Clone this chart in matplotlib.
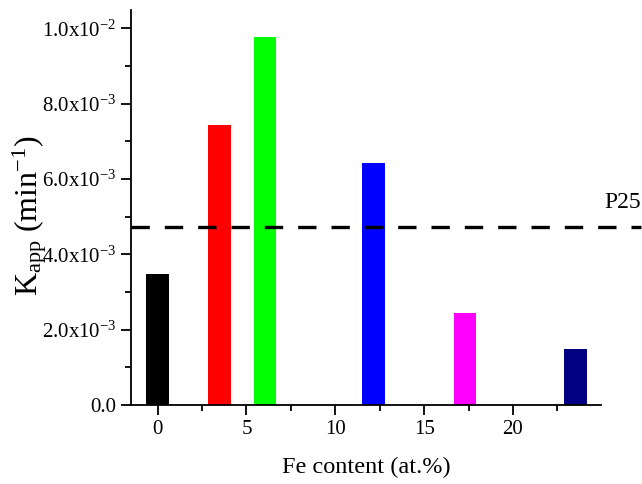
import matplotlib.pyplot as plt
from matplotlib.ticker import MultipleLocator, FuncFormatter

plt.rcParams['font.family'] = ['Liberation Serif', 'DejaVu Serif']
plt.rcParams['mathtext.fontset'] = 'stix'

# data
fe_content = [0, 3.5, 6.05, 12.15, 17.3, 23.5]
k_app = [3.47e-3, 7.43e-3, 9.77e-3, 6.42e-3, 2.45e-3, 1.5e-3]
bar_colors = ['black', '#ff0000', '#00ff00', '#0000ff', '#ff00ff', '#000080']
p25_value = 4.73e-3

fig = plt.figure(figsize=(6.42, 4.84), dpi=100)
ax = fig.add_axes([0.204, 0.163, 0.732, 0.816])

ax.bar(fe_content, k_app, width=1.28, color=bar_colors)

# P25 reference line (runs past the end of the axis)
ax.plot([-1.5, 27.2], [p25_value, p25_value], color='black', lw=2.4,
        dashes=(5.5, 4.5), clip_on=False)
ax.text(27.2, 5.1e-3, 'P25', ha='right', va='bottom', fontsize=17, clip_on=False)

ax.set_xlim(-1.5, 24.95)
ax.set_ylim(0, 1.048e-2)

ax.xaxis.set_major_locator(MultipleLocator(5))
ax.xaxis.set_minor_locator(MultipleLocator(2.5))
ax.yaxis.set_major_locator(MultipleLocator(2e-3))
ax.yaxis.set_minor_locator(MultipleLocator(1e-3))


def sci_fmt(v, pos):
    if abs(v) < 1e-12:
        return '0.0'
    exp = int(f'{v:e}'.split('e')[1])
    mant = v / 10 ** exp
    return r'$\mathregular{%.1fx10^{%d}}$' % (mant, exp)


ax.yaxis.set_major_formatter(FuncFormatter(sci_fmt))

ax.spines['top'].set_visible(False)
ax.spines['right'].set_visible(False)
ax.spines['left'].set_linewidth(1.3)
ax.spines['bottom'].set_linewidth(1.3)
ax.tick_params(which='major', direction='out', length=7, width=1.3, labelsize=15)
ax.tick_params(which='minor', direction='out', length=4, width=1.3)

ax.set_xlabel('Fe content (at.%)', fontsize=17.5)
ax.xaxis.set_label_coords(0.5, -0.13)
ax.set_ylabel(r'$\mathregular{K_{app}\ (min^{-1})}$', fontsize=23)
ax.yaxis.set_label_coords(-0.175, 0.48)

fig.savefig('out.png', dpi=100)
